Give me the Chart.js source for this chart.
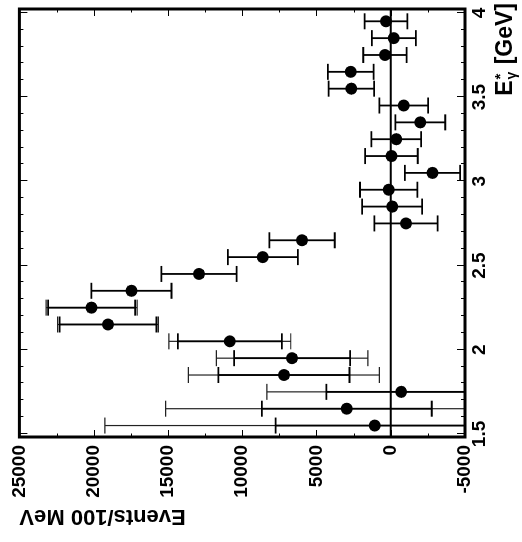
<!DOCTYPE html>
<html><head><meta charset="utf-8">
<script src="https://cdn.jsdelivr.net/npm/chart.js@4.4.1/dist/chart.umd.min.js"></script>
<style>
html,body{margin:0;padding:0;background:#fff;overflow:hidden;width:522px;height:542px;}
#wrap{position:absolute;left:0;top:0;width:542px;height:522px;transform-origin:0 0;transform:translateY(542px) rotate(-90deg);}
canvas{display:block;}
</style></head><body>
<div id="wrap"><canvas id="c" width="542" height="522"></canvas></div>
<script>
// photon energy bin centres [GeV]
const energies = [1.55, 1.65, 1.75, 1.85, 1.95, 2.05, 2.15, 2.25, 2.35, 2.45, 2.55, 2.65, 2.75,
                  2.85, 2.95, 3.05, 3.15, 3.25, 3.35, 3.45, 3.55, 3.65, 3.75, 3.85, 3.95];
// events per 100 MeV
const events = [1070, 2960, -700, 7190, 6640, 10830, 19030, 20140, 17460, 12910, 8610, 5970, -1030,
                -100, 140, -2810, -50, -370, -1990, -880, 2650, 2690, 390, -210, 320];
// statistical (inner) errors
const statErr = [6680, 5720, 5030, 4415, 3900, 3500, 3260, 2930, 2700, 2530, 2360, 2200, 2130,
                 2020, 1930, 1860, 1770, 1680, 1680, 1640, 1530, 1540, 1460, 1480, 1440];
// total (outer) errors
const totalErr = [18180, 12190, 9040, 6430, 5100, 4100, 3390, 3060, 2700, 2530, 2360, 2200, 2130,
                  2020, 1930, 1860, 1770, 1680, 1680, 1640, 1530, 1540, 1460, 1480, 1440];
const energyTicks = [1.5, 2, 2.5, 3, 3.5, 4];
const energyTickLabels = ['1.5', '2', '2.5', '3', '3.5', '4'];
const eventTicks = [-5000, 0, 5000, 10000, 15000, 20000, 25000];
const eventTickLabels = ['-5000', '0', '5000', '10000', '15000', '20000', '25000'];
const yTitle = 'Events/100 MeV';
const xTitle = {main: 'E', sup: '*', sub: 'γ', unit: ' [GeV]'};

const FONT = '"Liberation Sans", Arial, Helvetica, sans-serif';

const errorBars = {
  id: 'errorBars',
  beforeDatasetsDraw(chart) {
    const {ctx, chartArea: a, scales: {x, y}} = chart;
    ctx.save();
    ctx.beginPath();
    ctx.rect(a.left, a.top, a.right - a.left, a.bottom - a.top);
    ctx.clip();
    // zero line
    ctx.strokeStyle = '#000';
    ctx.lineWidth = 2;
    const y0 = y.getPixelForValue(0);
    ctx.beginPath(); ctx.moveTo(a.left, y0); ctx.lineTo(a.right, y0); ctx.stroke();
    const cap = 8;
    const seg = (px, lo, hi, lw, col) => {
      const p1 = y.getPixelForValue(lo), p2 = y.getPixelForValue(hi);
      ctx.strokeStyle = col; ctx.lineWidth = lw;
      ctx.beginPath();
      ctx.moveTo(px, p1); ctx.lineTo(px, p2);
      ctx.moveTo(px - cap, p1); ctx.lineTo(px + cap, p1);
      ctx.moveTo(px - cap, p2); ctx.lineTo(px + cap, p2);
      ctx.stroke();
    };
    for (let i = 0; i < energies.length; i++) {
      const px = x.getPixelForValue(energies[i]);
      if (totalErr[i] > statErr[i] + 1) seg(px, events[i] - totalErr[i], events[i] + totalErr[i], 1.2, '#222');
      seg(px, events[i] - statErr[i], events[i] + statErr[i], 1.8, '#000');
    }
    ctx.restore();
  }
};

const frame = {
  id: 'frame',
  afterDatasetsDraw(chart) {
    const {ctx, chartArea: a, scales: {x, y}} = chart;
    ctx.save();
    ctx.strokeStyle = '#000';
    ctx.lineWidth = 1;
    ctx.beginPath();
    // energy ticks (minor 0.1, major 0.5) on bottom & top
    for (let k = 15; k <= 40; k++) {
      const px = Math.round(x.getPixelForValue(k / 10)) + 0.5;
      const len = (k % 5 === 0) ? 8 : 4;
      ctx.moveTo(px, a.bottom); ctx.lineTo(px, a.bottom - len);
      ctx.moveTo(px, a.top); ctx.lineTo(px, a.top + len);
    }
    // event ticks (minor 2500, major 5000) on left & right
    for (let k = -2; k <= 10; k++) {
      const py = Math.round(y.getPixelForValue(k * 2500)) + 0.5;
      const len = (k % 2 === 0) ? 7 : 3.5;
      ctx.moveTo(a.left, py); ctx.lineTo(a.left + len, py);
      ctx.moveTo(a.right, py); ctx.lineTo(a.right - len, py);
    }
    ctx.stroke();
    ctx.lineWidth = 3;
    ctx.strokeRect(a.left, a.top, a.right - a.left, a.bottom - a.top);
    ctx.restore();
  },
  afterDraw(chart) {
    const {ctx, chartArea: a} = chart;
    ctx.save();
    ctx.fillStyle = '#000';
    ctx.textBaseline = 'alphabetic';
    const big = 'bold 23px ' + FONT, sup = 'bold 15px ' + FONT, sub = 'bold 14px ' + FONT;
    ctx.font = big; const wE = ctx.measureText(xTitle.main).width; const wU = ctx.measureText(xTitle.unit).width;
    ctx.font = sup; const wS = ctx.measureText(xTitle.sup).width;
    ctx.font = sub; const wB = ctx.measureText(xTitle.sub).width;
    const ws = Math.max(wS, wB) + 2;
    const end = a.right + 6;
    const base = a.bottom + 47;
    let u = end - (wE + ws + wU);
    ctx.font = big; ctx.fillText(xTitle.main, u, base); u += wE + 1;
    ctx.font = sup; ctx.fillText(xTitle.sup, u, base - 7);
    ctx.font = sub; ctx.fillText(xTitle.sub, u, base + 4);
    u += ws - 1;
    ctx.font = big; ctx.fillText(xTitle.unit, u, base);
    ctx.restore();
  }
};

new Chart(document.getElementById('c'), {
  type: 'scatter',
  data: {
    datasets: [{
      data: energies.map((e, i) => ({x: e, y: events[i]})),
      pointRadius: 6,
      pointHoverRadius: 6,
      pointBackgroundColor: '#000',
      pointBorderWidth: 0,
      showLine: false
    }]
  },
  options: {
    responsive: false,
    animation: false,
    layout: {padding: {left: 0, right: 9, top: 14, bottom: 0}},
    plugins: {legend: {display: false}, tooltip: {enabled: false}},
    scales: {
      x: {
        type: 'linear', position: 'bottom', min: 1.482, max: 4.023,
        grid: {display: false, drawTicks: false}, border: {display: false},
        ticks: {color: '#000', font: {family: FONT, size: 19, weight: 'bold'}, padding: 3,
                autoSkip: false, maxRotation: 0, minRotation: 0,
                callback: (v, i) => energyTickLabels[i]},
        afterBuildTicks: s => { s.ticks = energyTicks.map(v => ({value: v})); },
        afterFit: s => { s.height = 57; }
      },
      y: {
        type: 'linear', position: 'left', min: -5000, max: 25000,
        grid: {display: false, drawTicks: false}, border: {display: false},
        ticks: {color: '#000', font: {family: FONT, size: 19, weight: 'bold'}, padding: 8,
                autoSkip: false, callback: (v, i) => eventTickLabels[i]},
        title: {display: true, text: yTitle, align: 'end', color: '#000',
                font: {family: FONT, size: 22, weight: 'bold'}, padding: {top: 13, bottom: 0}},
        afterBuildTicks: s => { s.ticks = eventTicks.map(v => ({value: v})); },
        afterFit: s => { s.width = 105; }
      }
    }
  },
  plugins: [errorBars, frame]
});
</script>
</body></html>
